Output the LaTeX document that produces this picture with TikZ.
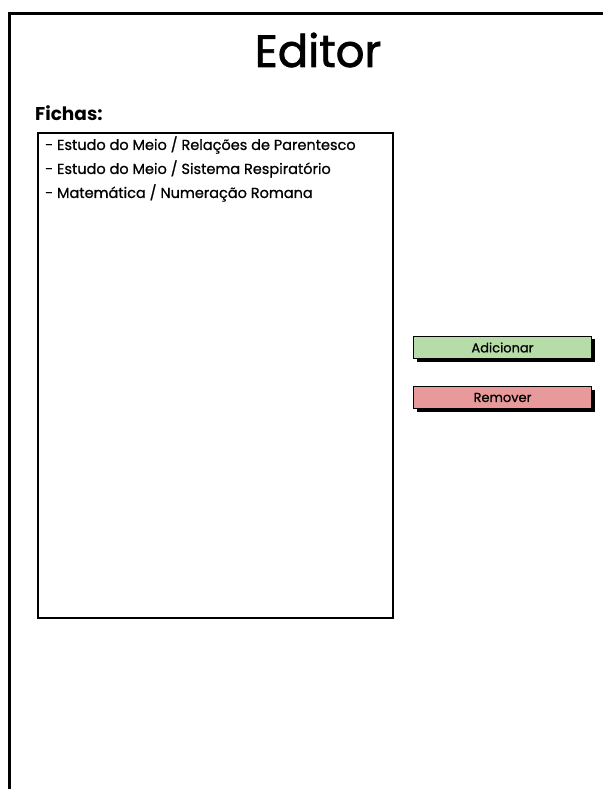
\documentclass[tikz,border=0pt]{standalone}
\usepackage{fontspec}
\setmainfont{Poppins}
\newfontfamily\uifont[FakeBold=0.8]{Poppins}
\newfontfamily\titlefont[FakeBold=1.6]{Poppins}
\definecolor{btngreen}{RGB}{182,220,168}
\definecolor{btnred}{RGB}{232,153,154}
\begin{document}
\begin{tikzpicture}[x=1pt,y=-1pt,
  frame/.style={draw=black,line width=3pt},
  listbox/.style={draw=black,line width=2.2pt,fill=white},
  button/.style={draw=black,line width=1.6pt,minimum width=178pt,minimum height=22pt,inner sep=0pt,font=\uifont\fontsize{13}{15}\selectfont},
  shadowbox/.style={fill=black},
  item/.style={anchor=west,inner sep=0pt,font=\uifont\fontsize{14.5}{16}\selectfont}]
  \useasboundingbox (0,0) rectangle (602,789);
  \fill[white] (0,0) rectangle (602,789);
  % window frame, running off the right and bottom edges
  \draw[frame] (9.5,800) -- (9.5,13.5) -- (610,13.5);
  % title
  \node[font=\titlefont\fontsize{45}{50}\selectfont] (title) at (318,50) {Editor};
  \node[anchor=base west,inner sep=0pt,font=\fontsize{18.5}{20}\selectfont\bfseries] (fichas) at (35,121) {Fichas:};
  % list of sheets
  \node[listbox,anchor=north west,minimum width=355pt,minimum height=485pt,inner sep=0pt] (list) at (37,132) {};
  \node[item] (i1) at (45,145) {- Estudo do Meio / Relações de Parentesco};
  \node[item] (i2) at (45,169) {- Estudo do Meio / Sistema Respiratório};
  \node[item] (i3) at (45,193) {- Matemática / Numeração Romana};
  % buttons with drop shadows
  \fill[shadowbox] (417,339) rectangle (595,362);
  \node[button,fill=btngreen] (add) at (502.5,347.5) {Adicionar};
  \fill[shadowbox] (417,390) rectangle (595,412);
  \node[button,fill=btnred] (rem) at (502.5,397.5) {Remover};
\end{tikzpicture}
\end{document}
